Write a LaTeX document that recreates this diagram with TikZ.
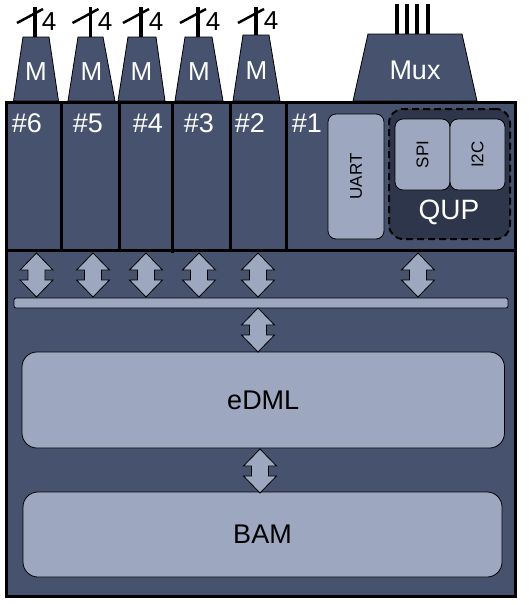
\documentclass[tikz,border=0pt]{standalone}
\usepackage{fontspec}
\setmainfont{Liberation Sans}
\usepackage{tikz}
\usetikzlibrary{positioning}
\definecolor{slate}{RGB}{70,82,110}
\definecolor{slatelight}{RGB}{157,168,192}
\definecolor{slatedark}{RGB}{46,54,75}
\tikzset{
  trapfill/.style={draw, line width=0.8pt, fill=slate},
  lightbox/.style={draw, line width=0.8pt, fill=slatelight, rounded corners=8pt, inner sep=0pt,
    font=\fontsize{17}{17}\selectfont},
  bigbox/.style={lightbox, rounded corners=15pt, font=\fontsize{27}{27}\selectfont},
  tag/.style={text=white, inner sep=0pt, font=\fontsize{27}{27}\selectfont},
  width4/.style={inner sep=0pt, font=\fontsize{26}{26}\selectfont},
  wire/.style={line width=3.5pt},
  slash/.style={line width=2.5pt},
  wall/.style={line width=3pt},
}
% fat two-way arrow: x, top, bottom
\newcommand{\bidir}[3]{%
  \draw[line width=0.8pt, fill=slatelight] (#1,#2) -- (#1+16.5,#2+17) -- (#1+8.5,#2+17)
    -- (#1+8.5,#3-17) -- (#1+16.5,#3-17) -- (#1,#3) -- (#1-16.5,#3-17) -- (#1-8.5,#3-17)
    -- (#1-8.5,#2+17) -- (#1-16.5,#2+17) -- cycle;}

\begin{document}
\begin{tikzpicture}[x=1pt,y=-1pt]
        \useasboundingbox (0,0) rectangle (529,605);
        % pins
        \draw [trapfill] (13.5,101) -- (23,37) -- (49,37) -- (58.5,101) -- cycle;
        \draw [trapfill] (68,101) -- (78,37) -- (103,37) -- (115,101) -- cycle;
        \draw [trapfill] (118,101) -- (128,37) -- (156,37) -- (165,101) -- cycle;
        \draw [trapfill] (175,101) -- (185,37) -- (212,37) -- (223,101) -- cycle;
        \draw [trapfill] (233,101) -- (243,35) -- (269,35) -- (280,101) -- cycle;
        \draw [trapfill] (353,101) -- (368,34) -- (462,34) -- (477,101) -- cycle;
        \node (m6) at (36,72)[tag, font=\fontsize{26}{26}\selectfont]{M};
        \node (m5) at (91.5,72)[tag, font=\fontsize{26}{26}\selectfont]{M};
        \node (m4) at (141.5,72)[tag, font=\fontsize{26}{26}\selectfont]{M};
        \node (m3) at (199,72)[tag, font=\fontsize{26}{26}\selectfont]{M};
        \node (m2) at (256.5,71)[tag, font=\fontsize{26}{26}\selectfont]{M};
        \node (mux) at (415,70)[tag]{Mux};
        \coordinate (p6) at (35,37);
        \coordinate (p5) at (90.5,37);
        \coordinate (p4) at (141,37);
        \coordinate (p3) at (198,37);
        \coordinate (p2) at (256,35);
        \draw [wire] (p6) -- ++(0,-30);
        \draw [wire] (p5) -- ++(0,-30);
        \draw [wire] (p4) -- ++(0,-30);
        \draw [wire] (p3) -- ++(0,-30);
        \draw [wire] (p2) -- ++(0,-28);
        \draw [slash] (p6) ++(-18,-14) -- ++(26,-14);
        \draw [slash] (p5) ++(-18,-14) -- ++(26,-14);
        \draw [slash] (p4) ++(-18,-14) -- ++(26,-14);
        \draw [slash] (p3) ++(-18,-14) -- ++(26,-14);
        \draw [slash] (p2) ++(-18,-12) -- ++(26,-14);
        \node (w6) at (49,22)[width4]{4};
        \node (w5) at (105,22)[width4]{4};
        \node (w4) at (156,22)[width4]{4};
        \node (w3) at (213,22)[width4]{4};
        \node (w2) at (271,21)[width4]{4};
        \draw [wire] (397,34) -- (397,4);
        \draw [wire] (407,34) -- (407,4);
        \draw [wire] (417,34) -- (417,4);
        \draw [wire] (428,34) -- (428,4);

        % main block
        \draw [wall, fill=slate] (6.5,102) rectangle (515,596);
        \draw [wall] (6.5,250) -- (515,250);
        \draw [wall] (61,102) -- (61,250);
        \draw [wall] (119,102) -- (119,250);
        \draw [wall] (172,102) -- (172,253);
        \draw [wall] (230,102) -- (230,250);
        \draw [wall] (286,102) -- (286,250);
        \node (c6) at (27,123)[tag]{\#6};
        \node (c5) at (88,123)[tag]{\#5};
        \node (c4) at (148,123)[tag]{\#4};
        \node (c3) at (199,123)[tag]{\#3};
        \node (c2) at (250,123)[tag]{\#2};
        \node (c1) at (307,123)[tag]{\#1};

        \node (uart) at (356,176.5)[lightbox, rotate=90, minimum width=125, minimum height=56]{UART};
        \node (qup) at (449.5,174)[draw, line width=2pt, dash pattern=on 7pt off 4pt,
              fill=slatedark, rounded corners=14pt, minimum width=121, minimum height=130, inner sep=0pt]{};
        \node (spi) at (422.5,154.5)[lightbox, rotate=90, minimum width=71, minimum height=55]{SPI};
        \node (i2c) at (477.5,154.5)[lightbox, rotate=90, minimum width=71, minimum height=55]{I2C};
        \node (quplabel) at (449,212)[tag, font=\fontsize{28}{28}\selectfont]{QUP};

        % bus and memories
        \node (bus) at (261,303)[lightbox, rounded corners=2pt, minimum width=494, minimum height=10]{};
        \node (edml) at (263.25,400)[bigbox, minimum width=482.5, minimum height=96]{eDML};
        \node (bam) at (262.5,534.5)[bigbox, minimum width=479, minimum height=85]{BAM};
        \bidir{36.5}{253}{297}
        \bidir{93}{253}{297}
        \bidir{146}{253}{297}
        \bidir{199}{253}{297}
        \bidir{258}{253}{297}
        \bidir{418}{253}{297}
        \bidir{258}{308}{352}
        \bidir{260}{449}{493}
\end{tikzpicture}
\end{document}
